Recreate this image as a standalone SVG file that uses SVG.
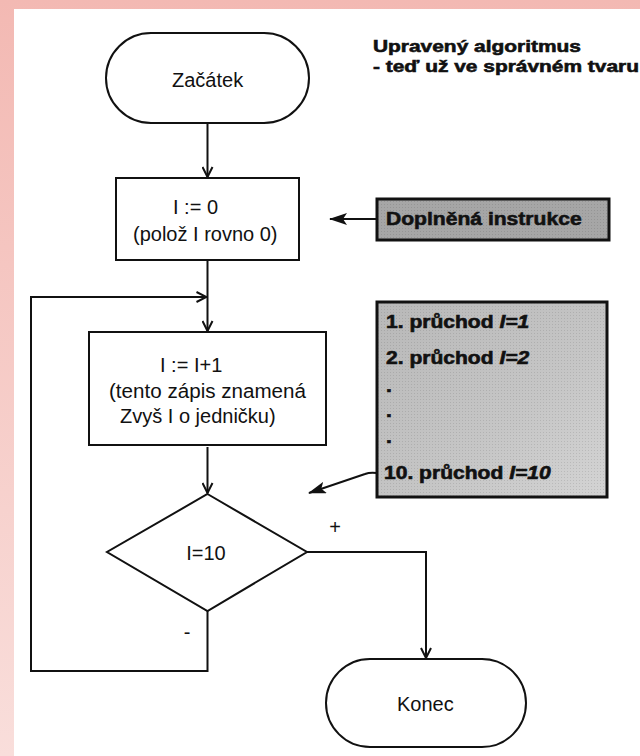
<svg xmlns="http://www.w3.org/2000/svg" width="640" height="756" viewBox="0 0 640 756">
  <defs>
    <linearGradient id="frame" x1="0" y1="0" x2="0" y2="1">
      <stop offset="0" stop-color="#f3b9b3"/>
      <stop offset="1" stop-color="#f9dedb"/>
    </linearGradient>
    <linearGradient id="shade" x1="0" y1="0" x2="1" y2="1">
      <stop offset="0" stop-color="#b8b8b8"/>
      <stop offset="0.6" stop-color="#c6c6c6"/>
      <stop offset="1" stop-color="#d4d4d4"/>
    </linearGradient>
    <pattern id="dots" width="3" height="3" patternUnits="userSpaceOnUse">
      <rect x="0" y="0" width="1" height="1" fill="#000" fill-opacity="0.1"/>
    </pattern>
    <!-- open chevron head for flow lines -->
    <marker id="vee" viewBox="0 0 12 12" refX="11" refY="6" markerWidth="12" markerHeight="12" markerUnits="userSpaceOnUse" orient="auto">
      <path d="M1,1 L11,6 L1,11" fill="none" stroke="#111" stroke-width="2"/>
    </marker>
    <!-- solid head for callout pointers -->
    <marker id="solid" viewBox="0 0 18 12" refX="17" refY="6" markerWidth="18" markerHeight="12" markerUnits="userSpaceOnUse" orient="auto">
      <path d="M0,0 L18,6 L0,12 L4,6 z" fill="#111"/>
    </marker>
  </defs>
  <style>
    .line { fill: none; stroke: #111; stroke-width: 2; }
    .shape { fill: #fff; stroke: #111; stroke-width: 2; }
    .txt { font-family: "Liberation Sans", Arial, sans-serif; font-size: 20px; fill: #111; }
    .bold { font-family: "Liberation Sans", Arial, sans-serif; font-weight: bold; font-size: 18px; fill: #111; stroke: #111; stroke-width: 0.6; }
    .note { stroke: #111; stroke-width: 3; }
  </style>

  <!-- page frame -->
  <rect x="0" y="0" width="640" height="756" fill="url(#frame)"/>
  <rect x="14" y="9" width="626" height="747" fill="#fff"/>

  <g id="connectors">
    <path class="line" d="M207.5,123 V177" marker-end="url(#vee)"/>
    <path class="line" d="M207.5,260 V331" marker-end="url(#vee)"/>
    <path class="line" d="M207.5,447 V493" marker-end="url(#vee)"/>
    <path class="line" d="M307,552 H426 V658" marker-end="url(#vee)"/>
    <path class="line" d="M207.5,611 V671 H31 V297 H206.5" marker-end="url(#vee)"/>
    <path class="line" d="M377,219 H330" marker-end="url(#solid)"/>
    <path class="line" d="M377,473 Q370,472 365,474 L309,493" marker-end="url(#solid)"/>
  </g>

  <g id="start">
    <rect class="shape" x="106" y="33" width="203" height="90" rx="45" ry="45"/>
    <text class="txt" x="172" y="87">Začátek</text>
  </g>

  <g id="init">
    <rect class="shape" x="116" y="178" width="183" height="82"/>
    <text class="txt" x="173" y="214">I := 0</text>
    <text class="txt" x="133" y="241">(polož I rovno 0)</text>
  </g>

  <g id="increment">
    <rect class="shape" x="89" y="332" width="237" height="113"/>
    <text class="txt" x="160" y="372">I := I+1</text>
    <text class="txt" x="109" y="398" textLength="197" lengthAdjust="spacingAndGlyphs">(tento zápis znamená</text>
    <text class="txt" x="120" y="423">Zvyš I o jedničku)</text>
  </g>

  <g id="decision">
    <polygon class="shape" points="207.5,494 307,552 207.5,611 107,552"/>
    <text class="txt" x="206" y="560" text-anchor="middle">I=10</text>
    <text class="txt" x="335" y="534" text-anchor="middle">+</text>
    <text class="txt" x="187" y="639" text-anchor="middle">-</text>
  </g>

  <g id="end">
    <rect class="shape" x="326" y="659" width="200" height="88" rx="44" ry="44"/>
    <text class="txt" x="397" y="711">Konec</text>
  </g>

  <g id="title">
    <text class="bold" style="font-size:17px" transform="translate(373,52) scale(1.23,1)">Upravený algoritmus</text>
    <text class="bold" style="font-size:17px" transform="translate(373,72) scale(1.23,1)">- teď už ve správném tvaru</text>
  </g>

  <g id="added-note">
    <rect class="note" x="377" y="199" width="232" height="41" fill="#a6a6a6"/>
    <rect x="378.5" y="200.5" width="229" height="38" fill="url(#dots)"/>
    <text class="bold" style="font-size:19px" transform="translate(386,225) scale(1.11,1)">Doplněná instrukce</text>
  </g>

  <g id="passes-note">
    <rect class="note" x="377" y="302" width="230" height="195" fill="url(#shade)"/>
    <rect x="378.5" y="303.5" width="227" height="192" fill="url(#dots)"/>
    <text class="bold" transform="translate(386,328) scale(1.17,1)">1. průchod <tspan font-style="italic">I=1</tspan></text>
    <text class="bold" transform="translate(386,364) scale(1.17,1)">2. průchod <tspan font-style="italic">I=2</tspan></text>
    <text class="bold" transform="translate(386,392) scale(1.17,1)">.</text>
    <text class="bold" transform="translate(386,417) scale(1.17,1)">.</text>
    <text class="bold" transform="translate(386,443) scale(1.17,1)">.</text>
    <text class="bold" transform="translate(384,479) scale(1.17,1)">10. průchod <tspan font-style="italic">I=10</tspan></text>
  </g>
</svg>
